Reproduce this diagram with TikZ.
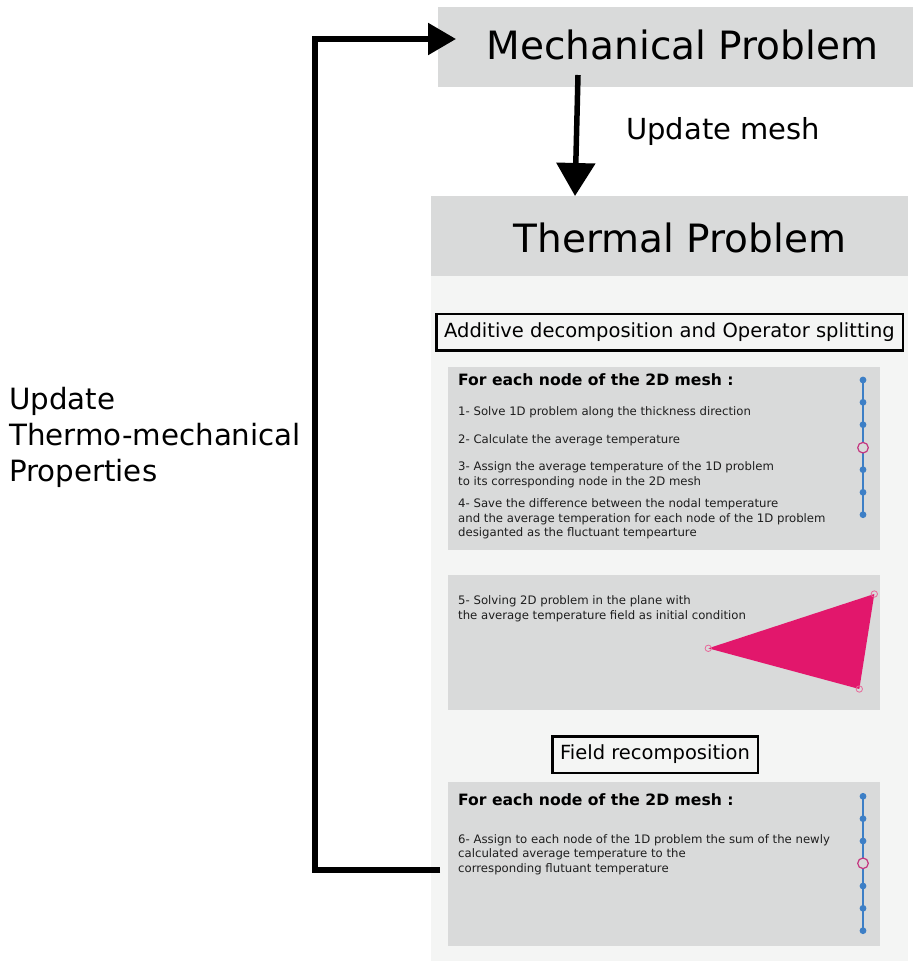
\documentclass[tikz,border=0pt]{standalone}
\usepackage{fontspec}
\setmainfont{DejaVu Sans}
\usetikzlibrary{arrows.meta}
\definecolor{boxgray}{HTML}{D9DADA}
\definecolor{panel}{HTML}{F4F5F4}
\definecolor{meshblue}{HTML}{3D7FC6}
\definecolor{ringpink}{HTML}{C4357F}
\definecolor{tripink}{HTML}{E2176C}
\definecolor{vertpink}{HTML}{E8689A}
\definecolor{txt}{HTML}{1E1E1E}
\begin{document}
\begin{tikzpicture}[x=1pt,y=-1pt,
  big/.style={font=\fontsize{39}{46}\selectfont, inner sep=0pt, anchor=base},
  mid/.style={font=\fontsize{29.3}{36}\selectfont, inner sep=0pt, align=left},
  lab/.style={font=\fontsize{19.5}{23}\selectfont},
  small/.style={font=\fontsize{11.7}{14.7}\selectfont, text=txt, inner sep=0pt, align=left, anchor=base west},
  head/.style={font=\fontsize{15.6}{18}\selectfont\bfseries, inner sep=0pt, anchor=base west},
  flow/.style={line width=5.5pt, line join=miter},
  graybox/.style={fill=boxgray, draw=none, inner sep=0pt, anchor=north west},
  framebox/.style={draw=black, line width=2.5pt, fill=panel, inner sep=0pt, lab},
  meshline/.style={draw=meshblue, line width=1.2pt},
  dot/.style={fill=meshblue},
  ring/.style={draw=ringpink, line width=1.2pt, fill=boxgray},
  vert/.style={draw=vertpink, line width=0.8pt}
]
\useasboundingbox (0,0) rectangle (913,961);
\fill[white] (0,0) rectangle (913,961);

% thermal panel
\fill[panel] (431,276) rectangle (908,961);

% headers
\node[graybox, minimum width=475, minimum height=80] (mech) at (438,7) {};
\node[big] (mechtxt) at (682.5,59) {Mechanical Problem};
\node[graybox, minimum width=477, minimum height=80] (therm) at (431,196) {};
\node[big] (thermtxt) at (680,252) {Thermal Problem};

% update mesh arrow
\coordinate (ma) at (578,75);
\coordinate (tb) at (575,196);
\draw[flow, -{Triangle[length=33pt,width=38pt]}] (ma) -- (tb);
\node[font=\fontsize{29}{34}\selectfont, inner sep=0pt, anchor=base west] (updmesh) at (626,139) {Update mesh};

% loop arrow
\coordinate (fb) at (440,870);
\coordinate (corner) at (315,870);
\coordinate (mt) at (456,39);
\draw[flow, -{Triangle[length=28pt,width=31pt]}] (fb) -- (corner) |- (mt);
\node[mid, anchor=base west] (updprop) at (9,481) {Update\\Thermo-mechanical\\Properties};

% operator splitting
\node[framebox, minimum width=466.5, minimum height=36.5] (adds) at (669.5,332) {Additive decomposition and Operator splitting};

% box 1
\node[graybox, minimum width=432, minimum height=183] (b1) at (448,367) {};
\node[head] (h1) at (458,385) {For each node of the 2D mesh :};
\node[small] (s1) at (458,415) {1- Solve 1D problem along the thickness direction};
\node[small] (s2) at (458,443) {2- Calculate the average temperature};
\node[small] (s3) at (458,485.5) {3- Assign the average temperature of the 1D problem\\to its corresponding node in the 2D mesh};
\node[small] (s4) at (458,536.7) {4- Save the difference between the nodal temperature\\and the average temperation for each node of the 1D problem\\desiganted as the fluctuant tempearture};
\draw[meshline] (863,380) -- (863,514.7);
\foreach \yy in {380,402.3,424.7,469.7,492.3,514.7} \fill[dot] (863,\yy) circle (3.4pt);
\draw[ring] (863,447.7) circle (5.3pt);

% box 2
\node[graybox, minimum width=432, minimum height=135] (b2) at (448,575) {};
\node[small] (s5) at (458,619.5) {5- Solving 2D problem in the plane with\\the average temperature field as initial condition};
\fill[tripink] (708.3,648.3) -- (874.3,594) -- (859.3,689) -- cycle;
\draw[vert] (708.3,648.3) circle (3.2pt);
\draw[vert] (874.3,594) circle (3.2pt);
\draw[vert] (859.3,689) circle (3.2pt);

% field recomposition
\node[framebox, minimum width=205.5, minimum height=36.5] (frec) at (655,754.5) {Field recomposition};

% box 3
\node[graybox, minimum width=432, minimum height=164] (b3) at (448,782) {};
\node[head] (h3) at (458,805) {For each node of the 2D mesh :};
\node[small] (s6) at (458,872.5) {6- Assign to each node of the 1D problem the sum of the newly\\calculated average temperature to the\\corresponding flutuant temperature};
\draw[meshline] (863,796.3) -- (863,930.7);
\foreach \yy in {796.3,818.7,841,886,908.3,930.7} \fill[dot] (863,\yy) circle (3.4pt);
\draw[ring] (863,863.3) circle (5.3pt);
\end{tikzpicture}
\end{document}
